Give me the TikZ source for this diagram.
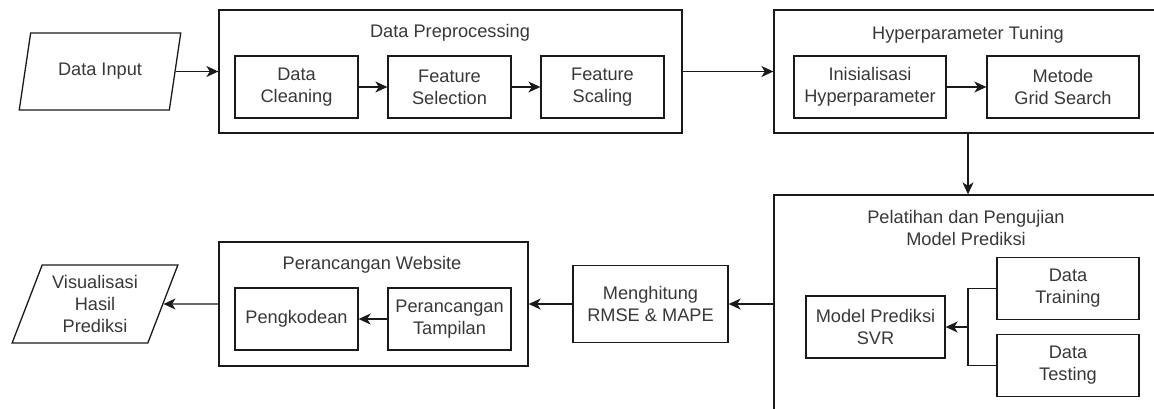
\documentclass[tikz,border=0pt]{standalone}
\usepackage{fontspec}
\setmainfont{Liberation Sans}
\usetikzlibrary{shapes.geometric,arrows.meta}
\definecolor{txt}{HTML}{383838}
\definecolor{linec}{HTML}{1A1A1A}
\tikzset{
  every node/.style={font=\fontsize{18.2}{22}\selectfont, text=txt},
  box/.style={draw=linec, line width=1.3pt, align=center, minimum height=62pt, inner sep=2pt},
  frame/.style={draw=linec, line width=1.3pt, inner sep=0pt},
  io/.style={trapezium, trapezium left angle=67, trapezium right angle=113,
    trapezium stretches=true, draw=linec, line width=1.3pt, align=center, inner sep=0pt},
  arr/.style={draw=linec, line width=1.3pt, -{Stealth[length=12pt,width=11pt,inset=3.5pt]}},
  wire/.style={draw=linec, line width=1.3pt},
  title/.style={align=center}
}
\begin{document}
\begin{tikzpicture}[x=1pt,y=-1pt]
\useasboundingbox (0,0) rectangle (1154,409);
\clip (0,0) rectangle (1154,409);

% input
\node[io, minimum width=162pt, minimum height=77pt] (din) at (100,71.5) {Data Input};

% preprocessing group
\node[frame, minimum width=463pt, minimum height=123pt] (dp) at (450.5,71.5) {};
\node[title] (dpt) at (450,33) {Data Preprocessing};
\node[box, minimum width=123pt] (dc) at (296.5,87) {Data\\Cleaning};
\node[box, minimum width=123pt] (fsel) at (449.5,87) {Feature\\Selection};
\node[box, minimum width=123pt] (fsc) at (602.5,87) {Feature\\Scaling};

% tuning group
\node[frame, minimum width=388pt, minimum height=123pt] (ht) at (968,71.5) {};
\node[title] (htt) at (968,35) {Hyperparameter Tuning};
\node[box, minimum width=152pt] (ini) at (870,87) {Inisialisasi\\Hyperparameter};
\node[box, minimum width=152pt] (grid) at (1063,87) {Metode\\Grid Search};

% training and testing group
\node[frame, minimum width=388pt, minimum height=235pt] (pt) at (968,312.5) {};
\node[title] (ptt) at (966,227.5) {Pelatihan dan Pengujian\\Model Prediksi};
\node[box, minimum width=142pt] (train) at (1068,288.5) {Data\\Training};
\node[box, minimum width=142pt] (test) at (1068,365.5) {Data\\Testing};
\node[box, minimum width=139pt] (svr) at (875.5,327) {Model Prediksi\\SVR};
\coordinate (j) at (968,327);

% evaluation
\node[box, minimum width=155pt, minimum height=77pt] (meng) at (650.5,304) {Menghitung\\RMSE \& MAPE};

% website group
\node[frame, minimum width=309pt, minimum height=124pt] (pw) at (373.5,304) {};
\node[title] (pwt) at (372,265) {Perancangan Website};
\node[box, minimum width=123pt] (kode) at (296.5,319) {Pengkodean};
\node[box, minimum width=123pt] (tamp) at (449.5,319) {Perancangan\\Tampilan};

% output
\node[io, minimum width=166pt, minimum height=78pt] (vis) at (95,304) {Visualisasi\\Hasil\\Prediksi};

% connectors
\draw[arr] (din.east) -- (din.east -| dp.west);
\draw[arr] (dc) -- (fsel);
\draw[arr] (fsel) -- (fsc);
\draw[arr] (dp.east) -- (dp.east -| ht.west);
\draw[arr] (ini) -- (grid);
\draw[arr] (ht.south) -- (pt.north);
\draw[wire] (train.west) -| (j) |- (test.west);
\draw[arr] (j) -- (svr.east);
\draw[arr] (pt.west |- meng.east) -- (meng.east);
\draw[arr] (meng.west) -- (meng.west -| pw.east);
\draw[arr] (tamp) -- (kode);
\draw[arr] (pw.west) -- (vis.east);
\end{tikzpicture}
\end{document}
